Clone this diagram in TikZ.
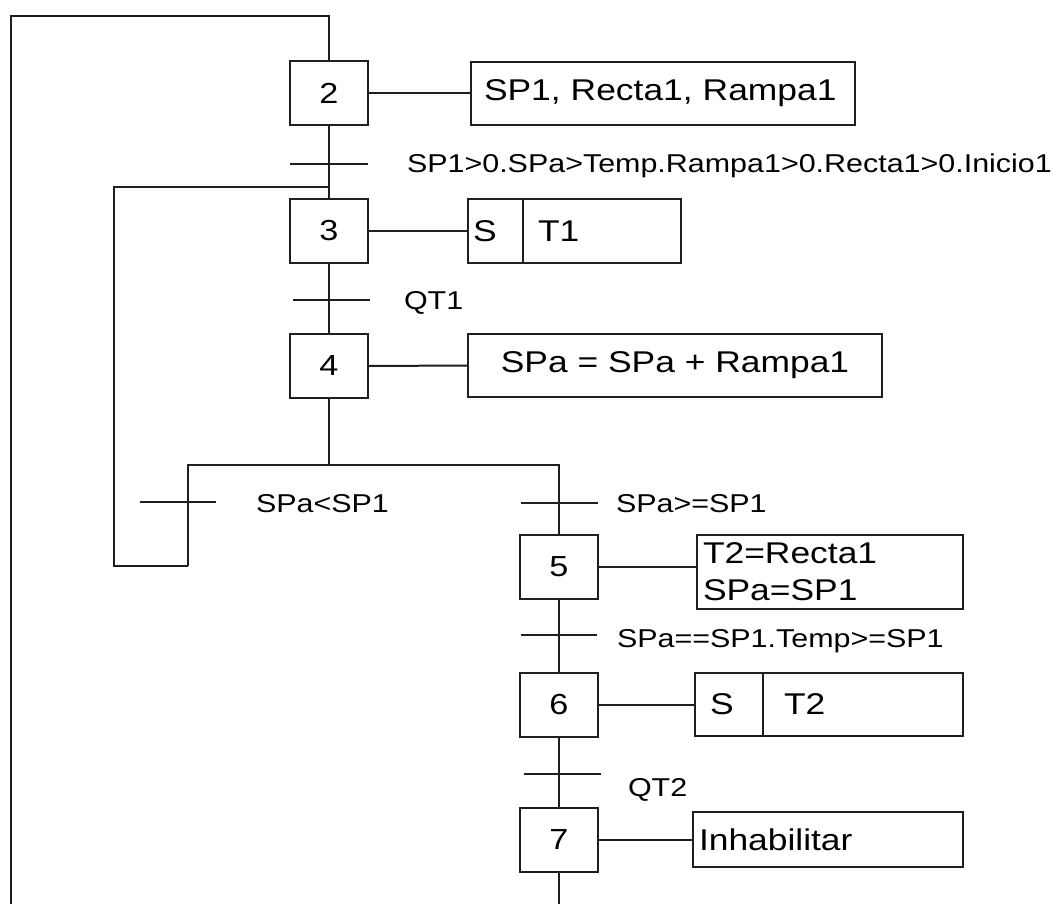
\documentclass[tikz,border=0pt]{standalone}
\usepackage{fontspec}
\setmainfont[FakeStretch=1.18]{Liberation Sans}
\begin{document}
\begin{tikzpicture}[x=1pt,y=-1pt,line width=2pt,draw=black!88,
  stepbox/.style={draw,minimum width=78pt,minimum height=64pt,inner sep=0pt,font=\fontsize{29}{34}\selectfont},
  actbox/.style={draw,inner ysep=0pt,inner xsep=0pt,font=\fontsize{30}{36}\selectfont},
  trlabel/.style={anchor=base west,inner sep=0pt,font=\fontsize{25.8}{30}\selectfont}]
\useasboundingbox (0,0) rectangle (1059,904);
% steps
\node[stepbox] (s2) at (329,93.5) {2};
\node[stepbox] (s3) at (329,231) {3};
\node[stepbox] (s4) at (329,366) {4};
\node[stepbox] (s5) at (559,567) {5};
\node[stepbox] (s6) at (559,704.5) {6};
\node[stepbox] (s7) at (559,839.5) {7};
% actions
\node[actbox,anchor=west,minimum height=63pt,inner xsep=13pt,text width=358pt,align=left] (a2) at (470,93.5) {SP1, Recta1, Rampa1};
\node[actbox,anchor=west,minimum height=64pt,minimum width=55pt,inner xsep=5pt,text width=45pt,align=left] (a3s) at (467,231) {S};
\node[actbox,anchor=west,minimum height=64pt,inner xsep=15pt,text width=128pt,align=left] (a3t) at (522,231) {T1};
\node[actbox,anchor=west,minimum height=63pt,minimum width=414pt,align=center] (a4) at (467,365.5) {SPa = SPa + Rampa1};
\node[actbox,anchor=west,minimum height=74pt,inner xsep=6pt,text width=254pt,align=left,font=\fontsize{30}{37}\selectfont] (a5) at (696,572) {T2=Recta1\\SPa=SP1};
\node[actbox,anchor=west,minimum height=63pt,minimum width=68pt,inner xsep=0pt,align=center] (a6s) at (694,704.5) {S\hspace{14pt}};
\node[actbox,anchor=west,minimum height=63pt,inner xsep=21pt,text width=158pt,align=left] (a6t) at (762,704.5) {T2};
\node[actbox,anchor=west,minimum height=55pt,inner xsep=6pt,text width=258pt,align=left] (a7) at (692,839.5) {Inhabilitar};
% action links
\draw (s2.east) -- (a2.west);
\draw (s3.east) -- (a3s.west);
\draw (s4.east) -- (a4.west);
\draw (s5.east) -- (s5.east -| a5.west);
\draw (s6.east) -- (a6s.west);
\draw (s7.east) -- (a7.west);
% coordinates
\coordinate (tl) at (11,16);
\coordinate (top) at (329,16);
\coordinate (bl) at (11,904);
\coordinate (bot) at (559,904);
\coordinate (t23) at (329,164);
\coordinate (j3) at (329,187);
\coordinate (l1) at (114,187);
\coordinate (l2) at (114,566);
\coordinate (l3) at (188,566);
\coordinate (bL) at (188,465);
\coordinate (br) at (329,465);
\coordinate (bR) at (559,465);
\coordinate (tL) at (188,502);
\coordinate (tR) at (559,503);
\coordinate (t34) at (329,300);
\coordinate (t56) at (559,635);
\coordinate (t67) at (559,774);
% main chain
\draw (bl) -- (tl) -- (top) -- (s2.north);
\draw (s2.south) -- (s3.north);
\draw (s3.south) -- (s4.north);
\draw (s4.south) -- (br);
\draw (l3) -- (bL) -- (bR) -- (s5.north);
\draw (l3) -- (l2) -- (l1) -- (j3);
\draw (s5.south) -- (s6.north);
\draw (s6.south) -- (s7.north);
\draw (s7.south) -- (bot);
% transition bars
\draw ([xshift=-39pt]t23) -- ([xshift=39pt]t23);
\draw ([xshift=-36pt]t34) -- ([xshift=41pt]t34);
\draw ([xshift=-48pt]tL) -- ([xshift=28pt]tL);
\draw ([xshift=-38pt]tR) -- ([xshift=39pt]tR);
\draw ([xshift=-38pt]t56) -- ([xshift=38pt]t56);
\draw ([xshift=-35pt]t67) -- ([xshift=42pt]t67);
% transition labels
\node[trlabel] (c23) at (406,173) {SP1>0.SPa>Temp.Rampa1>0.Recta1>0.Inicio1};
\node[trlabel] (c34) at (403,309) {QT1};
\node[trlabel] (cL) at (255,512) {SPa<SP1};
\node[trlabel] (cR) at (615,512) {SPa>=SP1};
\node[trlabel] (c56) at (616,647) {SPa==SP1.Temp>=SP1};
\node[trlabel] (c67) at (627,796) {QT2};
\end{tikzpicture}
\end{document}
